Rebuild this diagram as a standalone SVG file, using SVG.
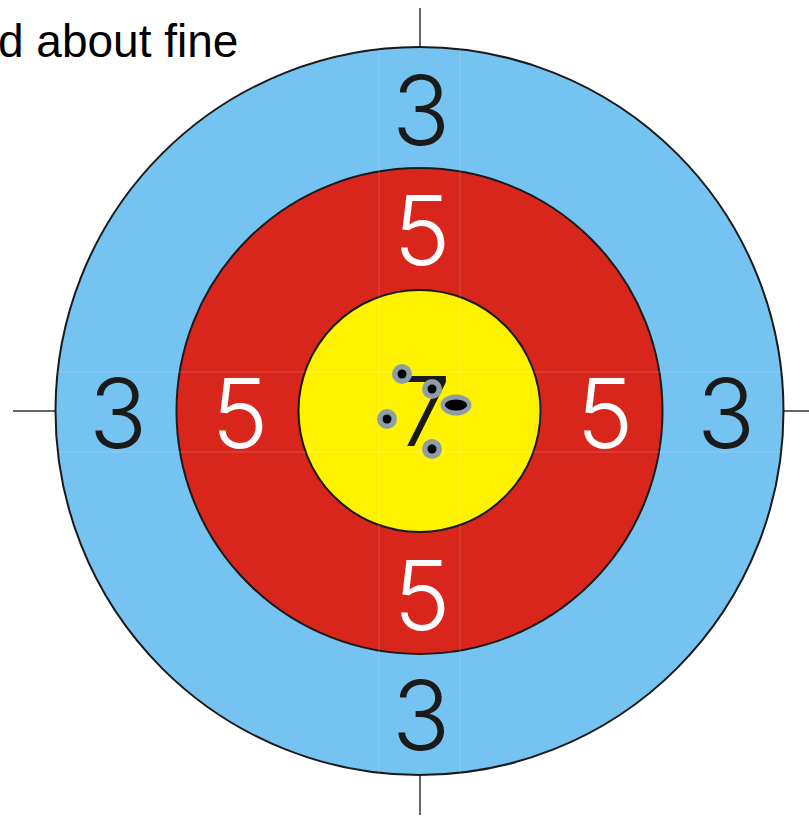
<svg xmlns="http://www.w3.org/2000/svg" width="809" height="818" viewBox="0 0 809 818">
<style>
.ring{stroke:#1a1a1a;stroke-width:2}
.num{font-family:Inter,"Liberation Sans",sans-serif;font-weight:300;font-size:96px;text-anchor:middle}
.grid{stroke:#ffffff;stroke-opacity:0.13;stroke-width:1.5}
.hole{fill:#8d9ea6}
.tick{stroke:#333;stroke-width:1.5}
</style>
<defs><clipPath id="c"><circle cx="419.5" cy="411" r="364"/></clipPath></defs>
<rect width="809" height="818" fill="#fff"/>
<text x="-2" y="57" font-family="Liberation Sans,Arial,sans-serif" font-size="46" fill="#000">d about fine</text>
<g id="crosshair">
<line class="tick" x1="420" y1="8" x2="420" y2="48"/>
<line class="tick" x1="420" y1="774" x2="420" y2="815"/>
<line class="tick" x1="13" y1="411" x2="56" y2="411"/>
<line class="tick" x1="783" y1="411" x2="809" y2="411"/>
</g>
<g id="blue"><circle class="ring" cx="419.5" cy="411" r="364" fill="#74c3f0"/></g>
<g id="red"><circle class="ring" cx="419.5" cy="411" r="243" fill="#d8261c"/></g>
<g id="yellow"><circle class="ring" cx="419.5" cy="411" r="121" fill="#fff200"/></g>
<g id="grid" clip-path="url(#c)">
<line class="grid" x1="379" y1="40" x2="379" y2="780"/>
<line class="grid" x1="460" y1="40" x2="460" y2="780"/>
<line class="grid" x1="50" y1="372" x2="790" y2="372"/>
<line class="grid" x1="50" y1="452" x2="790" y2="452"/>
</g>
<g id="labels">
<text class="num" x="421" y="145" fill="#1a1a1a">3</text>
<text class="num" x="421" y="750" fill="#1a1a1a">3</text>
<text class="num" x="118" y="448" fill="#1a1a1a">3</text>
<text class="num" x="726" y="448" fill="#1a1a1a">3</text>
<text class="num" x="422" y="265" fill="#fff">5</text>
<text class="num" x="422" y="630" fill="#fff">5</text>
<text class="num" x="240" y="448" fill="#fff">5</text>
<text class="num" x="605" y="448" fill="#fff">5</text>
<text class="num" x="424" y="446" fill="#1a1a1a" font-weight="500">7</text>
</g>
<g id="holes">
<circle class="hole" cx="402" cy="374" r="10"/><circle cx="402" cy="374" r="4.5" fill="#000"/>
<circle class="hole" cx="432" cy="389" r="10"/><circle cx="432" cy="389" r="4.5" fill="#000"/>
<circle class="hole" cx="387" cy="419" r="10"/><circle cx="387" cy="419" r="4.5" fill="#000"/>
<circle class="hole" cx="432" cy="449" r="10"/><circle cx="432" cy="449" r="4.5" fill="#000"/>
<ellipse class="hole" cx="456" cy="405" rx="15.5" ry="10.5"/><ellipse cx="456" cy="405" rx="11" ry="5.5" fill="#000"/>
</g>
</svg>
